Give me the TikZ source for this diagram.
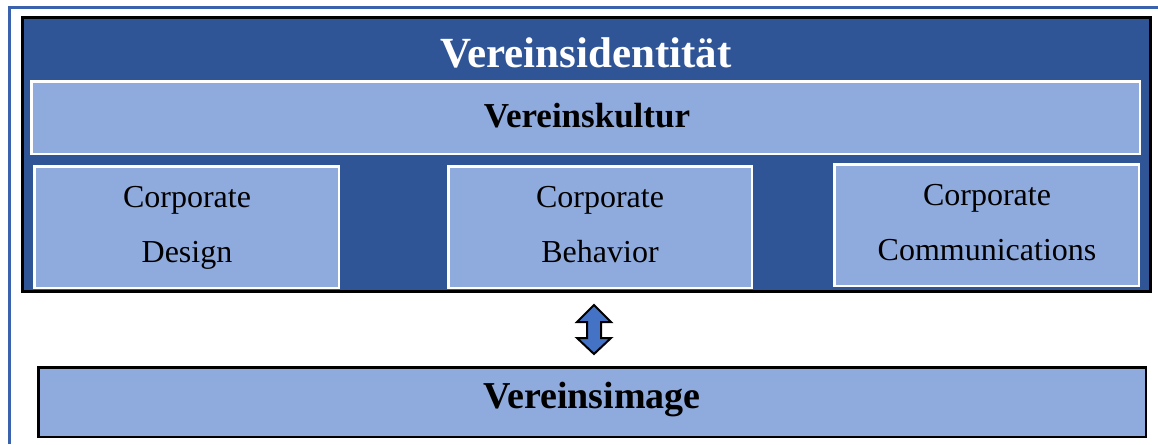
\documentclass[tikz,border=0pt]{standalone}
\usepackage{fontspec}
\setmainfont{Liberation Serif}
\begin{document}
\begin{tikzpicture}[x=1pt,y=-1pt,
  darkbox/.style={draw=black,line width=3pt,fill=darkblue,inner sep=0pt,outer sep=0pt,anchor=north west},
  lightbox/.style={draw=white,line width=2.5pt,fill=lightblue,inner sep=0pt,outer sep=0pt,anchor=north west},
  imagebox/.style={draw=black,line width=2.5pt,fill=lightblue,inner sep=0pt,outer sep=0pt,anchor=north west},
  frameline/.style={draw=frameblue,line width=3pt},
  boldtxt/.style={font=\bfseries,inner sep=0pt,anchor=base},
  regtxt/.style={font=\fontsize{32}{36}\selectfont,inner sep=0pt,anchor=base}]
\definecolor{darkblue}{HTML}{2F5597}
\definecolor{lightblue}{HTML}{8FAADC}
\definecolor{frameblue}{HTML}{3A62AD}
\definecolor{arrowblue}{HTML}{4472C4}
\useasboundingbox (0,0) rectangle (1158,444);
% outer frame (partly visible)
\coordinate (fa) at (9.5,444);
\coordinate (fb) at (9.5,7.5);
\coordinate (fc) at (1158,7.5);
\draw[frameline] (fa) -- (fb) -- (fc);
% main identity box
\node[darkbox,minimum width=1128pt,minimum height=274pt] (ident) at (22.5,17.5) {};
\node[boldtxt,font=\fontsize{43}{47}\selectfont\bfseries,text=white] (identtxt) at (586,67) {Vereinsidentität};
% Vereinskultur bar
\node[lightbox,minimum width=1108.5pt,minimum height=72.5pt] (kultur) at (31.25,81.25) {};
\node[boldtxt,font=\fontsize{35}{40}\selectfont\bfseries] (kulturtxt) at (587,127) {Vereinskultur};
% three boxes
\node[lightbox,minimum width=304.5pt,minimum height=121.5pt] (design) at (34.25,166.25) {};
\node[lightbox,minimum width=303.5pt,minimum height=121.5pt] (behav) at (448.25,166.25) {};
\node[lightbox,minimum width=304.5pt,minimum height=121.5pt] (comm) at (834.25,164.25) {};
\node[regtxt] (d1) at (187,207) {Corporate};
\node[regtxt] (d2) at (187,262) {Design};
\node[regtxt] (b1) at (600,207) {Corporate};
\node[regtxt] (b2) at (600,262) {Behavior};
\node[regtxt] (c1) at (987,205) {Corporate};
\node[regtxt] (c2) at (987,260) {Communications};
% double arrow
\draw[fill=arrowblue,draw=black,line width=2pt,line join=miter]
  (594,305) -- (611,322) -- (601,322) -- (601,338) -- (611,338) -- (594,354)
  -- (577,338) -- (587,338) -- (587,322) -- (577,322) -- cycle;
% Vereinsimage
\node[imagebox,minimum width=1107.5pt,minimum height=69.5pt] (image) at (38.25,367.25) {};
\node[boldtxt,font=\fontsize{38}{42}\selectfont\bfseries] (imagetxt) at (592,408) {Vereinsimage};
\end{tikzpicture}
\end{document}
